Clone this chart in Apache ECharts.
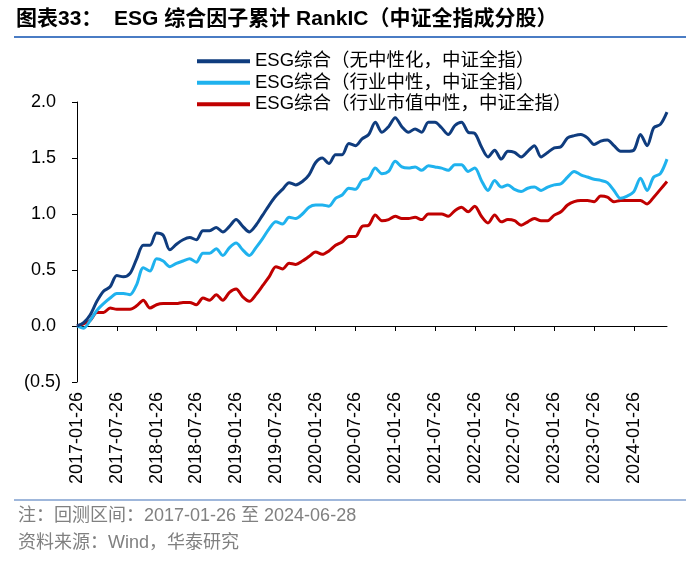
<!DOCTYPE html>
<html>
<head>
<meta charset="utf-8">
<script src="https://cdn.jsdelivr.net/npm/echarts@6/dist/echarts.min.js"></script>
<style>html,body{margin:0;padding:0;background:#fff;}#c{width:700px;height:562px;}</style>
</head>
<body>
<div id="c"></div>
<script>
// Monthly dates 2017-01-26 .. 2024-06
var dates = [];
(function(){
  for (var y = 2017; y <= 2024; y++) {
    for (var m = 1; m <= 12; m++) {
      if (y === 2024 && m > 6) break;
      dates.push(y + '-' + (m < 10 ? '0' + m : m) + '-' + (y === 2024 && m === 6 ? '28' : '26'));
    }
  }
})();

var seriesNames = [
  'ESG综合（无中性化，中证全指）',
  'ESG综合（行业中性，中证全指）',
  'ESG综合（行业市值中性，中证全指）'
];

var noNeutral = [0.00,0.03,0.10,0.22,0.31,0.35,0.45,0.44,0.47,0.60,0.72,0.72,0.83,0.81,0.68,0.73,0.77,0.79,0.77,0.85,0.85,0.88,0.84,0.89,
  0.95,0.89,0.84,0.90,0.99,1.08,1.16,1.22,1.28,1.26,1.29,1.35,1.46,1.50,1.45,1.53,1.53,1.63,1.61,1.67,1.71,1.82,1.73,1.78,
  1.86,1.78,1.73,1.76,1.73,1.82,1.82,1.77,1.71,1.79,1.82,1.73,1.72,1.60,1.51,1.57,1.49,1.56,1.55,1.51,1.56,1.61,1.51,1.55,
  1.59,1.60,1.68,1.70,1.71,1.68,1.62,1.65,1.66,1.61,1.56,1.56,1.57,1.71,1.61,1.77,1.80,1.91];

var industryNeutral = [0.00,-0.02,0.05,0.14,0.20,0.25,0.29,0.29,0.28,0.37,0.52,0.49,0.60,0.58,0.53,0.56,0.58,0.60,0.57,0.65,0.65,0.69,0.63,0.70,
  0.74,0.68,0.63,0.70,0.78,0.87,0.93,0.91,0.97,0.96,1.00,1.06,1.08,1.08,1.07,1.14,1.17,1.23,1.22,1.30,1.32,1.41,1.36,1.38,
  1.47,1.42,1.41,1.42,1.39,1.43,1.42,1.41,1.39,1.44,1.44,1.38,1.41,1.30,1.21,1.30,1.24,1.26,1.22,1.20,1.23,1.24,1.21,1.24,
  1.26,1.27,1.33,1.38,1.35,1.33,1.31,1.30,1.28,1.21,1.14,1.16,1.20,1.32,1.21,1.33,1.36,1.49];

var industryCapNeutral = [0.00,0.02,0.05,0.12,0.12,0.16,0.15,0.15,0.15,0.18,0.23,0.16,0.19,0.20,0.20,0.20,0.21,0.21,0.19,0.25,0.23,0.28,0.23,0.30,
  0.33,0.26,0.22,0.28,0.36,0.44,0.53,0.51,0.56,0.55,0.58,0.62,0.66,0.64,0.67,0.72,0.75,0.80,0.80,0.89,0.90,0.99,0.94,0.95,
  0.98,0.96,0.96,0.97,0.95,1.00,1.00,1.00,0.98,1.03,1.06,1.02,1.07,0.98,0.92,0.99,0.93,0.95,0.94,0.90,0.93,0.96,0.94,0.94,
  0.99,1.02,1.08,1.11,1.12,1.12,1.11,1.16,1.15,1.11,1.12,1.12,1.12,1.12,1.09,1.15,1.22,1.29];

var yTicks = { min: -0.5, max: 2.0, interval: 0.5 };

var FONT = '"Liberation Sans", "Noto Sans CJK SC", sans-serif';
var colors = ['#0f3c7e', '#1fb2ee', '#c00000'];

var chart = echarts.init(document.getElementById('c'), null, { renderer: 'canvas' });
var values = [noNeutral, industryNeutral, industryCapNeutral];

chart.setOption({
  animation: false,
  color: colors,
  textStyle: { fontFamily: FONT },
  grid: { left: 77, right: 33, top: 102, bottom: 180, containLabel: false },
  legend: {
    orient: 'vertical',
    left: 192,
    top: 47,
    padding: 5,
    itemWidth: 53,
    itemHeight: 4,
    itemGap: 3,
    icon: 'rect',
    data: seriesNames,
    textStyle: { fontSize: 18.5, color: '#000', fontFamily: FONT }
  },
  xAxis: [
    {
      type: 'category',
      data: dates,
      boundaryGap: false,
      axisLine: { onZero: true, lineStyle: { color: '#000', width: 1 } },
      axisTick: { show: true, interval: 5, length: 5, lineStyle: { color: '#000' } },
      axisLabel: { show: false },
      splitLine: { show: false }
    },
    {
      type: 'category',
      data: dates,
      boundaryGap: false,
      position: 'bottom',
      axisLine: { show: false, onZero: false },
      axisTick: { show: false },
      axisLabel: { interval: 5, rotate: 90, fontSize: 18, color: '#000', margin: 10, fontFamily: FONT },
      splitLine: { show: false }
    }
  ],
  yAxis: {
    type: 'value',
    min: yTicks.min,
    max: yTicks.max,
    interval: yTicks.interval,
    axisLine: { show: true, lineStyle: { color: '#000', width: 1 } },
    axisTick: { show: true, length: 5, lineStyle: { color: '#000' } },
    splitLine: { show: false },
    axisLabel: {
      fontSize: 18, color: '#000', margin: 16, fontFamily: FONT,
      formatter: function (v) {
        if (v < 0) return '(' + Math.abs(v).toFixed(1) + ')';
        return v.toFixed(1) + ' ';
      }
    }
  },
  series: values.map(function (d, i) {
    return {
      name: seriesNames[i],
      type: 'line',
      xAxisIndex: 0,
      data: d,
      showSymbol: false,
      smooth: 0.3,
      lineStyle: { width: 3, color: colors[i] },
      itemStyle: { color: colors[i] },
      z: 3 - i
    };
  }),
  graphic: [
    { type: 'text', left: 16, top: 9,
      style: { text: '图表33：  ESG 综合因子累计 RankIC（中证全指成分股）', font: 'bold 21px ' + FONT, fill: '#000' } },
    { type: 'line', shape: { x1: 14, y1: 37, x2: 686, y2: 37 }, style: { stroke: '#4a7cc4', lineWidth: 2 } },
    { type: 'line', shape: { x1: 14, y1: 500, x2: 686, y2: 500 }, style: { stroke: '#7f9fcf', lineWidth: 1.5 } },
    { type: 'text', left: 18, top: 507,
      style: { text: '注：回测区间：2017-01-26 至 2024-06-28', font: '18px ' + FONT, fill: '#808080' } },
    { type: 'text', left: 18, top: 534,
      style: { text: '资料来源：Wind，华泰研究', font: '18px ' + FONT, fill: '#808080' } }
  ]
});
</script>
</body>
</html>
